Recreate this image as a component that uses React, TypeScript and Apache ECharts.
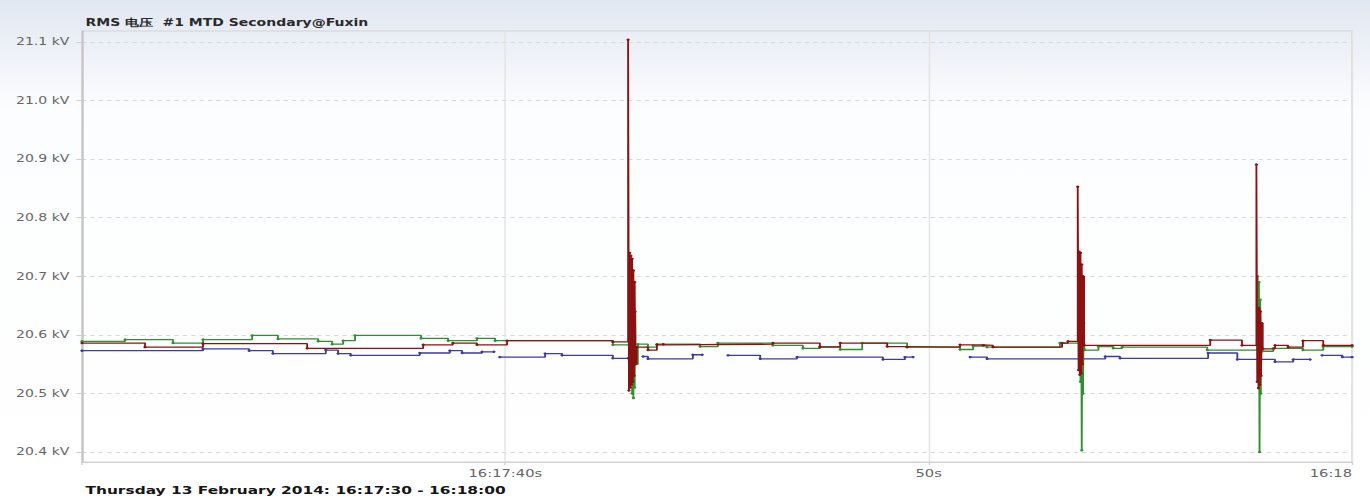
import React, { useEffect, useRef } from 'react';
import * as echarts from 'echarts';

// Chart texts
const chartTitle = 'RMS 电压  #1 MTD Secondary@Fuxin';
const periodLabel = 'Thursday 13 February 2014: 16:17:30 - 16:18:00';

// X axis: seconds after 16:17:30
const xTickValues = [0, 10, 20, 30];
const xTickLabels = ['', '16:17:40s', '50s', '16:18'];
// Y axis: kV
const yTickValues = [20.4, 20.5, 20.6, 20.7, 20.8, 20.9, 21.0, 21.1];

// Phase voltages as change points (value holds until the next time)
const greenTimes = [
  0, 1.02, 2.15, 2.86, 4.02, 4.63, 5.58, 5.91, 6.17, 6.45, 8.01, 8.65, 9.33, 9.76, 12.54,
  12.98, 12.995, 13.01, 13.025, 13.04, 13.055, 13.07, 13.085, 13.13, 13.37, 13.58, 14.6, 15.02, 16.32, 17.03,
  17.43, 17.91, 18.43, 19.49, 20.74, 21.05, 21.38, 23.1,
  23.57, 23.585, 23.6, 23.615, 23.63, 23.645, 23.66, 23.68, 24.01, 24.36, 24.57, 26.58,
  27.77, 27.785, 27.8, 27.815, 27.83, 27.845, 27.86, 27.88, 28.14, 28.84, 29.32, 30,
];
const greenValues = [
  20.589, 20.592, 20.586, 20.592, 20.599, 20.593, 20.589, 20.584, 20.59, 20.599, 20.594, 20.59, 20.594, 20.59, 20.583,
  20.72, 20.5, 20.71, 20.492, 20.68, 20.51, 20.64, 20.55, 20.584, 20.579, 20.584, 20.58, 20.586, 20.582, 20.577,
  20.58, 20.575, 20.586, 20.579, 20.575, 20.581, 20.579, 20.586,
  20.708, 20.52, 20.7, 20.403, 20.66, 20.5, 20.62, 20.574, 20.58, 20.577, 20.579, 20.574,
  20.7, 20.52, 20.69, 20.4, 20.66, 20.5, 20.6, 20.572, 20.577, 20.574, 20.58, 20.58,
];

const redTimes = [
  0, 1.49, 2.86, 5.32, 8.06, 8.76, 9.33, 10.04, 12.54,
  12.9, 12.92, 12.935, 12.95, 12.965, 12.98, 12.995, 13.01, 13.025, 13.04, 13.055, 13.07, 13.1, 13.37, 13.58, 13.73,
  16.32, 17.43, 17.91, 19.02, 19.49, 20.74, 21.29, 21.52, 23.15, 23.29,
  23.52, 23.54, 23.555, 23.57, 23.585, 23.6, 23.615, 23.63, 23.645, 23.67, 26.65, 27.4,
  27.74, 27.76, 27.775, 27.79, 27.805, 27.82, 27.835, 27.85, 27.865, 27.89, 28.18, 28.49, 28.84, 29.32, 30,
];
const redValues = [
  20.586, 20.579, 20.585, 20.577, 20.583, 20.586, 20.583, 20.59, 20.588,
  21.104, 20.505, 20.74, 20.51, 20.735, 20.515, 20.73, 20.52, 20.71, 20.53, 20.69, 20.55, 20.579, 20.574, 20.583, 20.584,
  20.586, 20.579, 20.586, 20.58, 20.579, 20.583, 20.582, 20.579, 20.586, 20.589,
  20.853, 20.54, 20.742, 20.532, 20.74, 20.535, 20.72, 20.55, 20.7, 20.582, 20.591, 20.582,
  20.891, 20.52, 20.646, 20.509, 20.645, 20.515, 20.64, 20.53, 20.62, 20.576, 20.582, 20.579, 20.59, 20.582, 20.582,
];

const blueTimes = [
  0, 2.86, 3.95, 4.51, 5.76, 6.05, 6.35, 7.98, 8.69, 8.98, 9.45, 9.73, 9.87, 10.94, 11.34, 12.54,
  12.9, 13.25, 13.37, 14.43, 14.65, 15.26, 16.02, 16.89, 18.92, 19.44, 19.63, 20.98, 21.38,
  24.17, 24.52, 26.6, 27.29, 28.18, 28.61, 29.01, 29.29, 29.77, 30,
];
const blueValues: (number | null)[] = [
  20.573, 20.576, 20.573, 20.568, 20.574, 20.568, 20.565, 20.569, 20.573, 20.569, 20.571, null, 20.562, 20.568, 20.565, 20.56,
  null, 20.563, 20.559, 20.566, null, 20.565, 20.559, 20.562, 20.558, 20.562, null, 20.562, 20.559,
  20.563, 20.56, 20.569, 20.558, 20.554, 20.558, null, 20.565, 20.562, 20.562,
];

const FONT = 'DejaVu Sans';
const CHART_W = 978;
const CHART_H = 501;
const STRETCH = 1370 / CHART_W;

// Hold-style data; a gap closes the previous level at its own time
function toStepData(times: number[], values: (number | null)[]) {
  const out: (number | string)[][] = [];
  let prev: number | null = null;
  times.forEach((t, i) => {
    const v = values[i];
    if (v === null) {
      if (prev !== null) out.push([t, prev]);
      out.push([t, '-']);
    } else {
      out.push([t, v]);
    }
    prev = v;
  });
  return out;
}

function lineSeries(name: string, color: string, data: (number | string)[][], z: number) {
  return {
    name,
    type: 'line',
    step: 'end',
    data,
    z,
    clip: false,
    connectNulls: false,
    symbol: 'circle',
    symbolSize: 2.4,
    showSymbol: true,
    silent: true,
    lineStyle: { color, width: 1.3 },
    itemStyle: { color },
  };
}

export default function App() {
  const ref = useRef<HTMLDivElement>(null);

  useEffect(() => {
    if (!ref.current) return;
    const chart = echarts.init(ref.current, undefined, { renderer: 'svg' });
    chart.setOption({
      animation: false,
      backgroundColor: new echarts.graphic.LinearGradient(0, 0, 0, 1, [
        { offset: 0, color: '#e1e7f1' },
        { offset: 0.22, color: '#fcfdfe' },
        { offset: 1, color: '#ffffff' },
      ]),
      title: [
        {
          text: chartTitle,
          left: 61,
          top: 18,
          padding: 0,
          textStyle: { fontFamily: FONT, fontSize: 10, fontWeight: 'bold', color: '#2a2a2a' },
        },
        {
          text: periodLabel,
          left: 61,
          top: 485,
          padding: 0,
          textStyle: { fontFamily: FONT, fontSize: 11, fontWeight: 'bold', color: '#151515' },
        },
      ],
      grid: {
        left: 58.5,
        right: 12.8,
        top: 31,
        bottom: 39,
        show: true,
        borderColor: '#d4d4d4',
        borderWidth: 1,
        backgroundColor: 'transparent',
      },
      xAxis: {
        type: 'value',
        min: xTickValues[0],
        max: xTickValues[xTickValues.length - 1],
        interval: 10,
        axisLine: { show: true, lineStyle: { color: '#d0d0d0', width: 1 } },
        axisTick: { show: true, length: 3, lineStyle: { color: '#cfcfcf' } },
        splitLine: { show: true, lineStyle: { color: '#e3e3e3', width: 1, type: 'solid' } },
        axisLabel: {
          margin: 6,
          fontFamily: FONT,
          fontSize: 10.5,
          color: '#666',
          alignMaxLabel: 'right',
          formatter: (v: number) => {
            const i = xTickValues.indexOf(Math.round(v));
            return i >= 0 ? xTickLabels[i] : '';
          },
        },
      },
      yAxis: {
        type: 'value',
        min: 20.3829,
        max: 21.1188,
        axisLine: { show: true, lineStyle: { color: '#c4c4c4', width: 1.5 } },
        axisTick: {
          show: true,
          length: 4,
          customValues: yTickValues,
          lineStyle: { color: '#cfcfcf' },
        },
        splitLine: { show: true, lineStyle: { color: '#d9d9d9', width: 1, type: [3, 3] } },
        axisLabel: {
          customValues: yTickValues,
          margin: 9,
          fontFamily: FONT,
          fontSize: 10,
          color: '#666',
          formatter: (v: number) => `${v.toFixed(1)} kV`,
        },
      },
      series: [
        lineSeries('L3', '#3b3ba3', toStepData(blueTimes, blueValues), 2),
        lineSeries('L2', '#2f8f2f', toStepData(greenTimes, greenValues), 3),
        lineSeries('L1', '#8a1212', toStepData(redTimes, redValues), 4),
      ],
    });
    return () => chart.dispose();
  }, []);

  return (
    <div
      ref={ref}
      style={{
        position: 'absolute',
        left: 0,
        top: 0,
        width: CHART_W,
        height: CHART_H,
        transform: `scaleX(${STRETCH})`,
        transformOrigin: '0 0',
      }}
    />
  );
}
